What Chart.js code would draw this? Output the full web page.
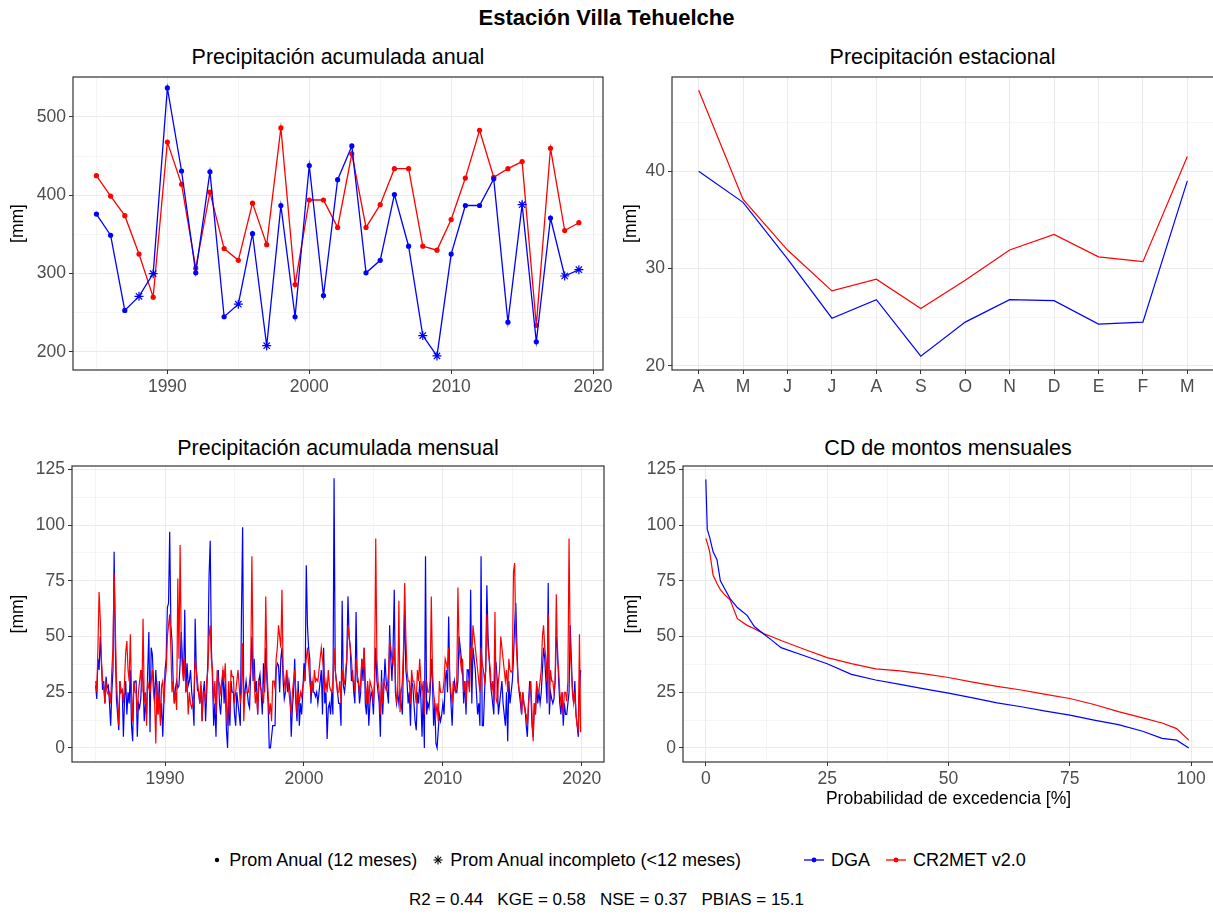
<!DOCTYPE html>
<html lang="es">
<head>
<meta charset="utf-8">
<title>Estación Villa Tehuelche</title>
<script src="https://cdn.jsdelivr.net/npm/chart.js@4.4.1/dist/chart.umd.min.js"></script>
<style>
  html, body { margin: 0; padding: 0; background: #fff; }
  body { width: 1213px; height: 919px; position: relative; overflow: hidden;
         font-family: 'Liberation Sans', Arial, sans-serif; color: #000; }
  canvas { position: absolute; }
  .txt { position: absolute; white-space: pre; }
  #titulo { left: 0; width: 1213px; top: 5px; line-height: 26px; text-align: center;
            font-weight: bold; font-size: 22px; }
  .panel-title { font-size: 21.5px; line-height: 24px; text-align: center; }
  #leyenda { left: 12px; width: 1213px; top: 849px; line-height: 22px; font-size: 18px;
             display: flex; justify-content: center; align-items: center; }
  #leyenda svg { margin: 0 6px 0 0; }
  #leyenda .sep { display: inline-block; width: 15px; }
  #leyenda .sep-grande { display: inline-block; width: 62px; }
  #estadisticos { left: 0; width: 1213px; top: 889px; line-height: 22px; font-size: 17px; text-align: center; }
</style>
</head>
<body>
<div id="titulo" class="txt">Estación Villa Tehuelche</div>
<div class="txt panel-title" style="left:73px;width:530px;top:45px;">Precipitación acumulada anual</div>
<div class="txt panel-title" style="left:672px;width:541px;top:45px;">Precipitación estacional</div>
<div class="txt panel-title" style="left:72px;width:532px;top:436px;">Precipitación acumulada mensual</div>
<div class="txt panel-title" style="left:683px;width:530px;top:436px;">CD de montos mensuales</div>

<canvas id="anualChart" width="625" height="330" style="left:0;top:70px;"></canvas>
<canvas id="estacionalChart" width="608" height="330" style="left:606px;top:70px;"></canvas>
<canvas id="mensualChart" width="625" height="336" style="left:0;top:456px;"></canvas>
<canvas id="cdChart" width="608" height="361" style="left:606px;top:456px;"></canvas>

<div id="leyenda" class="txt">
  <svg width="12" height="14"><circle cx="6" cy="7" r="2.2" fill="#000"/></svg><span>Prom Anual (12 meses)</span>
  <span class="sep"></span>
  <svg width="12" height="14" stroke="#000" stroke-width="1.1"><line x1="6" y1="2.5" x2="6" y2="11.5"/><line x1="1.5" y1="7" x2="10.5" y2="7"/><line x1="2.8" y1="3.8" x2="9.2" y2="10.2"/><line x1="2.8" y1="10.2" x2="9.2" y2="3.8"/></svg><span>Prom Anual incompleto (&lt;12 meses)</span>
  <span class="sep-grande"></span>
  <svg width="22" height="14"><line x1="1" y1="7" x2="21" y2="7" stroke="#0000FF" stroke-width="1.3"/><circle cx="11" cy="7" r="2.4" fill="#0000FF"/></svg><span>DGA</span>
  <span class="sep"></span>
  <svg width="22" height="14"><line x1="1" y1="7" x2="21" y2="7" stroke="#FF0000" stroke-width="1.3"/><circle cx="11" cy="7" r="2.4" fill="#FF0000"/></svg><span>CR2MET v2.0</span>
</div>
<div id="estadisticos" class="txt">R2 = 0.44   KGE = 0.58   NSE = 0.37   PBIAS = 15.1</div>

<script>
// ---- datos ----
const anios = [1985, 1986, 1987, 1988, 1989, 1990, 1991, 1992, 1993, 1994, 1995, 1996,
               1997, 1998, 1999, 2000, 2001, 2002, 2003, 2004, 2005, 2006, 2007, 2008,
               2009, 2010, 2011, 2012, 2013, 2014, 2015, 2016, 2017, 2018, 2019];
const dgaAnual = [376, 349, 253, 271, 300, 537, 431, 301, 430, 245, 261, 351,
                  208, 387, 245, 438, 272, 420, 463, 301, 317, 401, 335, 221,
                  195, 325, 387, 387, 421, 238, 388, 213, 371, 297, 305];
const cr2Anual = [425, 399, 374, 325, 270, 468, 414, 307, 404, 332, 317, 390,
                  337, 486, 286, 394, 394, 359, 453, 359, 388, 434, 434, 335,
                  330, 369, 422, 483, 423, 434, 443, 234, 460, 355, 365];
// años con menos de 12 meses de registro (asterisco)
const dgaIncompletos = [1988, 1989, 1995, 1997, 2008, 2009, 2015, 2018, 2019];

const mesesEstacion = ['A', 'M', 'J', 'J', 'A', 'S', 'O', 'N', 'D', 'E', 'F', 'M'];
const dgaEstacional = [40.0, 36.8, 31.0, 24.9, 26.8, 21.0, 24.5, 26.8, 26.7, 24.3, 24.5, 39.0];
const cr2Estacional = [48.3, 37.1, 31.9, 27.7, 28.9, 25.9, 28.8, 31.9, 33.5, 31.2, 30.7, 41.5];

// montos mensuales ene..dic, 1985-2019
const dgaMensual = [
  28, 22, 40, 35, 50, 38, 26, 30, 20, 32, 27, 28,
  20, 10, 25, 35, 88, 45, 22, 15, 8, 30, 25, 26,
  5, 22, 30, 15, 25, 20, 35, 10, 3, 28, 30, 30,
  5, 20, 18, 22, 35, 30, 12, 20, 15, 35, 52, 7,
  45, 42, 30, 20, 35, 25, 15, 30, 12, 20, 5, 21,
  35, 40, 63, 65, 97, 55, 48, 30, 20, 27, 30, 27,
  28, 38, 52, 40, 30, 62, 25, 38, 28, 30, 35, 25,
  20, 10, 58, 35, 26, 25, 20, 28, 12, 25, 30, 12,
  25, 40, 77, 93, 45, 30, 10, 20, 5, 30, 35, 20,
  15, 25, 35, 20, 30, 8, 0, 22, 10, 30, 25, 25,
  15, 10, 25, 20, 15, 10, 60, 99, 20, 25, 30, 25,
  20, 18, 35, 50, 30, 40, 25, 30, 15, 30, 33, 25,
  15, 38, 25, 45, 30, 20, 0, 0, 5, 10, 10, 10,
  35, 38, 37, 25, 40, 45, 30, 22, 25, 35, 25, 30,
  25, 5, 18, 25, 40, 20, 12, 30, 10, 20, 15, 25,
  38, 30, 82, 55, 45, 40, 20, 30, 25, 25, 23, 25,
  20, 25, 30, 35, 15, 45, 20, 25, 4, 18, 20, 15,
  25, 15, 121, 35, 30, 25, 20, 20, 10, 66, 28, 25,
  30, 40, 68, 50, 45, 30, 35, 25, 20, 61, 30, 29,
  20, 25, 40, 30, 45, 20, 15, 28, 10, 20, 25, 23,
  15, 30, 45, 30, 25, 20, 5, 35, 15, 27, 40, 30,
  25, 20, 55, 40, 30, 45, 71, 25, 20, 25, 20, 25,
  20, 15, 40, 62, 35, 30, 20, 25, 10, 30, 28, 20,
  12, 8, 25, 20, 30, 22, 5, 25, 0, 86, 15, 20,
  18, 25, 40, 30, 10, 20, 2, 0, 8, 15, 12, 15,
  20, 15, 30, 35, 25, 59, 30, 20, 10, 25, 30, 26,
  25, 30, 50, 45, 40, 35, 20, 30, 15, 35, 35, 27,
  71, 20, 45, 40, 35, 25, 15, 20, 10, 86, 10, 10,
  25, 35, 73, 50, 40, 30, 25, 20, 15, 40, 38, 30,
  15, 20, 25, 30, 20, 15, 10, 25, 3, 30, 20, 25,
  30, 40, 55, 65, 45, 30, 25, 20, 15, 25, 20, 18,
  10, 5, 20, 30, 25, 10, 5, 20, 15, 28, 20, 25,
  20, 25, 35, 45, 40, 30, 20, 74, 15, 25, 22, 20,
  22, 30, 50, 45, 30, 20, 15, 25, 10, 20, 15, 15,
  20, 25, 55, 40, 25, 20, 30, 15, 10, 5, 25, 35
];
const cr2Mensual = [
  30, 25, 45, 70, 58, 40, 30, 28, 20, 30, 25, 24,
  25, 20, 35, 45, 78, 55, 30, 20, 10, 30, 25, 26,
  20, 30, 43, 48, 35, 30, 51, 25, 12, 30, 25, 25,
  15, 25, 30, 35, 25, 58, 20, 25, 10, 30, 27, 25,
  30, 35, 25, 20, 2, 30, 15, 25, 10, 28, 30, 20,
  30, 35, 50, 55, 60, 45, 25, 30, 20, 25, 17, 76,
  40, 91, 45, 35, 30, 40, 25, 30, 15, 25, 20, 18,
  20, 25, 40, 35, 30, 25, 20, 30, 12, 25, 25, 20,
  30, 35, 50, 55, 40, 35, 20, 30, 15, 35, 30, 29,
  25, 30, 35, 30, 38, 20, 10, 30, 15, 35, 32, 32,
  20, 25, 30, 35, 28, 20, 25, 47, 12, 25, 25, 25,
  25, 30, 35, 86, 40, 30, 20, 25, 15, 30, 28, 26,
  25, 20, 30, 68, 35, 25, 15, 20, 12, 30, 30, 27,
  40, 45, 55, 50, 45, 71, 35, 30, 25, 35, 30, 25,
  20, 15, 25, 30, 35, 25, 15, 25, 20, 25, 23, 28,
  30, 35, 40, 45, 38, 30, 25, 30, 25, 35, 30, 31,
  30, 35, 40, 45, 40, 35, 25, 30, 25, 35, 28, 26,
  25, 30, 45, 35, 30, 25, 25, 30, 20, 35, 30, 29,
  35, 40, 55, 50, 45, 40, 30, 30, 25, 40, 33, 30,
  25, 30, 40, 35, 45, 30, 20, 30, 20, 30, 28, 26,
  20, 30, 94, 40, 30, 25, 15, 30, 20, 30, 28, 26,
  28, 33, 48, 45, 40, 38, 45, 30, 20, 25, 66, 16,
  25, 30, 45, 74, 50, 35, 30, 30, 20, 35, 30, 30,
  25, 20, 35, 30, 40, 30, 25, 30, 15, 30, 30, 25,
  25, 30, 68, 35, 25, 20, 15, 20, 12, 30, 25, 25,
  25, 30, 40, 38, 35, 45, 30, 25, 20, 30, 26, 25,
  30, 72, 45, 40, 35, 40, 25, 30, 20, 30, 30, 25,
  45, 40, 55, 50, 45, 40, 35, 30, 25, 45, 38, 35,
  30, 35, 60, 45, 40, 35, 25, 30, 20, 61, 22, 20,
  30, 35, 50, 45, 40, 35, 30, 35, 25, 40, 35, 34,
  35, 79, 83, 50, 40, 30, 25, 25, 15, 25, 20, 16,
  15, 10, 20, 25, 30, 15, 3, 20, 15, 30, 25, 26,
  30, 35, 50, 55, 45, 40, 30, 60, 20, 35, 30, 30,
  25, 30, 69, 40, 35, 25, 20, 25, 15, 25, 25, 21,
  30, 94, 45, 35, 25, 20, 25, 15, 10, 8, 51, 7
];

// curva de duración: probabilidad de excedencia [%] y monto [mm]
const cdProb = [0, 0.3, 0.8, 1.5, 2.3, 3, 4, 5, 6.5, 8.5, 10, 12, 13.5, 15.5, 20, 25,
                30, 35, 40, 45, 50, 55, 60, 65, 70, 75, 80, 85, 90, 94, 97, 99.5];
const cdDga = [120.5, 98, 94.5, 88, 84.5, 75, 71, 67, 63, 59.5, 54.5, 51, 48.5, 45, 41.6, 37.8,
               33, 30.5, 28.5, 26.5, 24.6, 22.5, 20.2, 18.5, 16.5, 14.7, 12.5, 10.5, 7.5, 4.3, 3.5, 0];
const cdCr2 = [94, 92, 88, 77.5, 73.8, 71, 68.5, 66.5, 58, 55, 53.5, 51.2, 50, 48.2, 44.5, 40.5,
               37.8, 35.5, 34.6, 33.2, 31.6, 29.5, 27.6, 26, 24, 22.2, 19.5, 16.3, 13.5, 11.2, 8.7, 3.5];

// marcas de los ejes
const ticksAnualY = [200, 300, 400, 500];
const ticksAnios = [1990, 2000, 2010, 2020];
const ticksEstacionalY = [20, 30, 40];
const ticksMensualY = [0, 25, 50, 75, 100, 125];
const ticksProb = [0, 25, 50, 75, 100];

// ---- estilo ----
const AZUL = '#0000FF';
const ROJO = '#FF0000';
const GRILLA = '#EBEBEB';
const BORDE = '#333333';
const TXT_TICK = '#4D4D4D';

Chart.defaults.font.family = "'Liberation Sans', Arial, sans-serif";
Chart.defaults.animation = false;

// ggplot-like breaks: majors plus midpoints as minor grid lines
function construirTicks(mayores, min, max, conMenores) {
    const paso = mayores.length > 1 ? mayores[1] - mayores[0] : 1;
    const lista = [];
    mayores.forEach((v) => {
        if (conMenores && v - paso / 2 >= min) lista.push({ value: v - paso / 2, minor: true });
        if (v >= min && v <= max) lista.push({ value: v });
    });
    const ultimo = mayores[mayores.length - 1] + paso / 2;
    if (conMenores && ultimo <= max) lista.push({ value: ultimo, minor: true });
    return lista;
}

function escala({ min, max, mayores, menores = true, tam, etiqueta, titulo, tituloPad }) {
    return {
        type: 'linear',
        min, max,
        afterBuildTicks: (axis) => { axis.ticks = construirTicks(mayores, min, max, menores); },
        afterFit: (axis) => {
            if (axis.isHorizontal()) axis.height = tam; else axis.width = tam;
            // no overhang padding for edge labels: keep the plot area where it is set
            axis.paddingLeft = 0; axis.paddingRight = 0;
            axis.paddingTop = 0; axis.paddingBottom = 0;
        },
        grid: {
            color: GRILLA,
            lineWidth: (c) => (c.tick && c.tick.minor ? 0.5 : 1),
            tickColor: (c) => (c.tick && c.tick.minor ? 'rgba(0,0,0,0)' : BORDE),
            tickLength: 4,
            tickWidth: 1
        },
        border: { display: false },
        ticks: {
            color: TXT_TICK,
            font: { size: 17.5 },
            padding: 3,
            autoSkip: false,
            maxRotation: 0,
            callback: (v, i, ts) => (ts[i].minor ? '' : (etiqueta ? etiqueta(v) : String(v)))
        },
        title: titulo
            ? { display: true, text: titulo, color: '#000', font: { size: 17.5 }, padding: tituloPad }
            : { display: false }
    };
}

// panel border drawn on top, like theme_bw
const marcoPanel = {
    id: 'marcoPanel',
    afterDatasetsDraw(chart) {
        const { ctx, chartArea: a } = chart;
        ctx.save();
        ctx.strokeStyle = BORDE;
        ctx.lineWidth = 1.2;
        ctx.strokeRect(a.left, a.top, a.right - a.left, a.bottom - a.top);
        ctx.restore();
    }
};

function opciones(padding, x, y) {
    return {
        responsive: false,
        maintainAspectRatio: false,
        animation: false,
        layout: { padding },
        plugins: { legend: { display: false }, tooltip: { enabled: false } },
        elements: { line: { tension: 0 } },
        scales: { x, y }
    };
}

// 1. Precipitación acumulada anual
const esIncompleto = anios.map((a) => dgaIncompletos.includes(a));
new Chart(document.getElementById('anualChart'), {
    type: 'line',
    data: {
        datasets: [
            {
                label: 'DGA',
                data: anios.map((a, i) => ({ x: a, y: dgaAnual[i] })),
                borderColor: AZUL,
                backgroundColor: AZUL,
                borderWidth: 1.3,
                pointStyle: esIncompleto.map((inc) => (inc ? 'star' : 'circle')),
                pointRadius: esIncompleto.map((inc) => (inc ? 4.5 : 2.6)),
                pointBorderWidth: esIncompleto.map((inc) => (inc ? 1.2 : 0)),
                pointBorderColor: AZUL,
                pointBackgroundColor: AZUL
            },
            {
                label: 'CR2MET v2.0',
                data: anios.map((a, i) => ({ x: a, y: cr2Anual[i] })),
                borderColor: ROJO,
                backgroundColor: ROJO,
                borderWidth: 1.3,
                pointStyle: 'circle',
                pointRadius: 2.6,
                pointBorderWidth: 0,
                pointBackgroundColor: ROJO
            }
        ]
    },
    options: opciones(
        { left: 0, top: 7, right: 22, bottom: 0 },
        escala({ min: 1983.35, max: 2020.7, mayores: ticksAnios, tam: 30 }),
        escala({ min: 177, max: 551, mayores: ticksAnualY, tam: 73, titulo: '[mm]', tituloPad: { top: 8, bottom: 0 } })
    ),
    plugins: [marcoPanel]
});

// 2. Precipitación estacional (abril a marzo)
new Chart(document.getElementById('estacionalChart'), {
    type: 'line',
    data: {
        datasets: [
            {
                label: 'DGA',
                data: dgaEstacional.map((v, i) => ({ x: i, y: v })),
                borderColor: AZUL,
                borderWidth: 1.2,
                pointRadius: 0
            },
            {
                label: 'CR2MET v2.0',
                data: cr2Estacional.map((v, i) => ({ x: i, y: v })),
                borderColor: ROJO,
                borderWidth: 1.2,
                pointRadius: 0
            }
        ]
    },
    options: opciones(
        { left: 0, top: 7, right: 0, bottom: 0 },
        escala({
            min: -0.6, max: mesesEstacion.length - 0.4,
            mayores: mesesEstacion.map((m, i) => i), menores: false, tam: 30,
            etiqueta: (v) => mesesEstacion[v]
        }),
        escala({ min: 19.58, max: 49.67, mayores: ticksEstacionalY, tam: 66, titulo: '[mm]', tituloPad: { top: 15, bottom: 0 } })
    ),
    plugins: [marcoPanel]
});

// 3. Precipitación acumulada mensual
const fechaMes = (i) => anios[0] + i / 12;
new Chart(document.getElementById('mensualChart'), {
    type: 'line',
    data: {
        datasets: [
            {
                label: 'CR2MET v2.0',
                data: cr2Mensual.map((v, i) => ({ x: fechaMes(i), y: v })),
                borderColor: ROJO,
                borderWidth: 1.2,
                pointRadius: 0
            },
            {
                label: 'DGA',
                data: dgaMensual.map((v, i) => ({ x: fechaMes(i), y: v })),
                borderColor: AZUL,
                borderWidth: 1.2,
                pointRadius: 0
            }
        ]
    },
    options: opciones(
        { left: 0, top: 10, right: 21, bottom: 0 },
        escala({ min: 1983.3, max: 2021.6, mayores: ticksAnios, tam: 30 }),
        escala({ min: -6.3, max: 126.5, mayores: ticksMensualY, tam: 72, titulo: '[mm]', tituloPad: { top: 8, bottom: 0 } })
    ),
    plugins: [marcoPanel]
});

// 4. Curva de duración de montos mensuales
new Chart(document.getElementById('cdChart'), {
    type: 'line',
    data: {
        datasets: [
            {
                label: 'DGA',
                data: cdProb.map((p, i) => ({ x: p, y: cdDga[i] })),
                borderColor: AZUL,
                borderWidth: 1.2,
                pointRadius: 0
            },
            {
                label: 'CR2MET v2.0',
                data: cdProb.map((p, i) => ({ x: p, y: cdCr2[i] })),
                borderColor: ROJO,
                borderWidth: 1.2,
                pointRadius: 0
            }
        ]
    },
    options: opciones(
        { left: 0, top: 10, right: 0, bottom: 0 },
        escala({ min: -4.7, max: 104.7, mayores: ticksProb, tam: 55, titulo: 'Probabilidad de excedencia [%]', tituloPad: { top: 0, bottom: 7 } }),
        escala({ min: -6.3, max: 126.5, mayores: ticksMensualY, tam: 77, titulo: '[mm]', tituloPad: { top: 15.5, bottom: 0 } })
    ),
    plugins: [marcoPanel]
});
</script>
</body>
</html>
